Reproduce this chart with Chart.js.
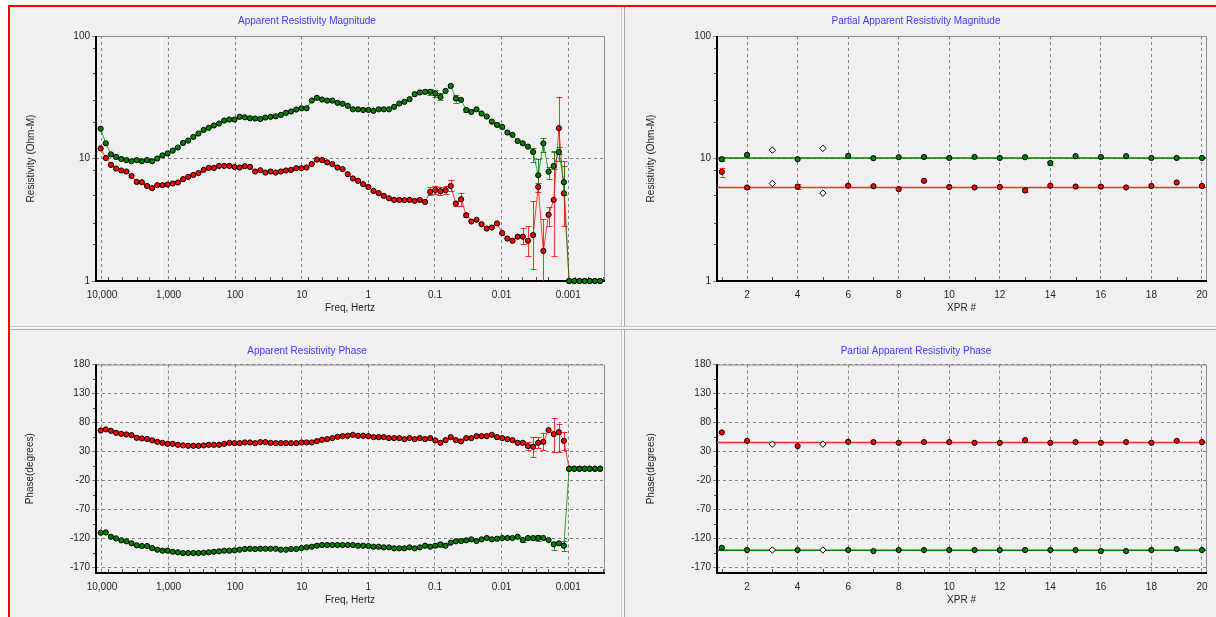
<!DOCTYPE html>
<html>
<head>
<meta charset="utf-8">
<title>Apparent Resistivity</title>
<script src="https://cdn.jsdelivr.net/npm/chart.js@4.4.1/dist/chart.umd.min.js"></script>
<style>
  html, body { margin: 0; padding: 0; background: #ffffff; }
  body { position: relative; width: 1216px; height: 617px; overflow: hidden; }
  #frame { position: absolute; left: 8px; top: 5px; width: 1208px; height: 612px; box-sizing: border-box;
           background: #f0f0f0; border-left: 2px solid #ff0000; border-top: 2px solid #ff0000; }
  .panel { position: absolute; }
  .panel canvas { display: block; }
  #vsplit { position: absolute; left: 621px; top: 7px; width: 4px; height: 610px; box-sizing: border-box;
            border-left: 1px solid #c4c4c4; border-right: 1px solid #a8a8a8; background: #f7f7f7; }
  #hsplit { position: absolute; left: 10px; top: 326px; width: 1206px; height: 4px; box-sizing: border-box;
            border-top: 1px solid #c4c4c4; border-bottom: 1px solid #a8a8a8; background: #f7f7f7; }
</style>
</head>
<body>
<div id="frame"></div>
<div id="vsplit"></div>
<div id="hsplit"></div>
<div class="panel" style="left:10px;top:7px;"><canvas id="magChart" width="611" height="319"></canvas></div>
<div class="panel" style="left:626px;top:7px;"><canvas id="partialMagChart" width="590" height="319"></canvas></div>
<div class="panel" style="left:10px;top:330px;"><canvas id="phaseChart" width="611" height="287"></canvas></div>
<div class="panel" style="left:626px;top:330px;"><canvas id="partialPhaseChart" width="590" height="287"></canvas></div>
<script>
Chart.defaults.font.family = "'Liberation Sans', Arial, sans-serif";
Chart.defaults.font.size = 10;
Chart.defaults.color = '#1e1e1e';

// sounding frequencies (Hz), high to low
const freqHz = [10470, 8766, 7336, 6139, 5137, 4299, 3598, 3011, 2520, 2109,
  1766, 1478, 1237, 1035, 866.6, 725.3, 607.0, 508.0, 425.2, 355.8,
  297.9, 249.3, 208.6, 174.6, 146.2, 122.3, 102.4, 85.7, 71.7, 60.0,
  50.2, 42.0, 35.2, 29.4, 24.6, 20.6, 17.3, 14.5, 12.1, 10.1,
  8.47, 7.09, 5.93, 4.97, 4.16, 3.48, 2.91, 2.44, 2.04, 1.71,
  1.43, 1.20, 1.00, 0.838, 0.701, 0.587, 0.491, 0.411, 0.344, 0.288,
  0.241, 0.202, 0.169, 0.141, 0.118, 0.0990, 0.0828, 0.0693, 0.0580, 0.0486,
  0.0406, 0.0340, 0.0285, 0.0238, 0.0200, 0.0167, 0.0140, 0.0117, 0.00979, 0.00819,
  0.00686, 0.00574, 0.00480, 0.00402, 0.00336, 0.00282, 0.00236, 0.00197, 0.00165, 0.00138,
  0.00116, 0.000968, 0.000810, 0.000678, 0.000567, 0.000475, 0.000397, 0.000332];

// apparent resistivity (Ohm-m)
const magGreen = [17.5, 13.3, 10.8, 10.3, 9.9, 9.7, 9.5, 9.7, 9.5, 9.7,
  9.5, 10.0, 10.6, 11.0, 11.6, 12.3, 13.4, 14.0, 15.0, 16.0,
  17.1, 17.8, 18.6, 19.3, 20.4, 20.8, 20.8, 21.9, 21.7, 21.3,
  21.2, 21.0, 21.6, 21.9, 22.1, 22.7, 23.6, 24.2, 25.1, 25.7,
  25.7, 29.7, 31.3, 30.3, 29.7, 29.7, 28.5, 28.0, 26.9, 25.2,
  25.2, 24.9, 24.9, 24.5, 25.2, 25.2, 25.2, 26.4, 28.1, 29.0,
  30.5, 33.5, 34.6, 35.0, 35.0, 33.9, 31.8, 35.6, 39.1, 30.9,
  30.1, 24.9, 24.0, 25.2, 23.3, 22.0, 20.0, 18.8, 18.1, 16.3,
  15.6, 13.9, 13.3, 12.5, 11.3, 7.3, 13.3, 7.8, 8.7, 11.3,
  6.4, 1, 1, 1, 1, 1, 1, 1];
const magRed = [12.1, 10.1, 8.87, 8.28, 7.98, 7.83, 7.2, 6.44, 6.4, 5.97,
  5.73, 6.06, 6.06, 6.13, 6.25, 6.37, 6.78, 7.08, 7.35, 7.6,
  8.07, 8.38, 8.38, 8.7, 8.7, 8.7, 8.54, 8.44, 8.65, 8.54,
  7.83, 8.02, 7.68, 7.83, 7.68, 7.83, 7.98, 8.07, 8.33, 8.33,
  8.44, 9.02, 9.8, 9.7, 9.3, 9.0, 8.44, 8.2, 7.44, 6.87,
  6.57, 6.17, 5.86, 5.44, 5.21, 4.95, 4.74, 4.59, 4.59, 4.57,
  4.59, 4.51, 4.59, 4.42, 5.34, 5.54, 5.41, 5.51, 5.97, 4.29,
  4.65, 3.44, 3.06, 3.16, 2.91, 2.68, 2.73, 2.95, 2.46, 2.22,
  2.13, 2.3, 2.3, 2.13, 2.37, 5.86, 1.76, 3.48, 4.59, 17.7,
  5.2, 1, 1, 1, 1, 1, 1, 1];

// phase (degrees)
const phaseRed = [66.1, 67.9, 65.5, 62.0, 60.3, 59.2, 58.0, 53.4, 52.3, 51.5,
  48.9, 46.5, 44.8, 43.0, 43.0, 41.3, 40.3, 39.6, 39.6, 39.6,
  40.3, 41.3, 41.3, 41.3, 43.0, 44.8, 44.2, 44.2, 45.4, 45.4,
  44.2, 46.0, 46.0, 44.8, 44.2, 44.2, 44.2, 44.2, 44.2, 45.4,
  45.4, 45.4, 47.7, 50.0, 51.1, 52.9, 55.2, 56.3, 56.9, 58.6,
  56.9, 56.9, 56.3, 54.6, 54.6, 54.6, 52.9, 52.9, 52.9, 51.1,
  52.9, 51.1, 52.9, 51.1, 52.9, 48.9, 44.8, 49.4, 54.6, 49.4,
  47.2, 52.9, 52.9, 56.3, 56.3, 56.3, 58.6, 54.6, 52.9, 51.1,
  49.4, 44.8, 44.8, 39.1, 37.9, 44.8, 46.5, 66.7, 59.8, 63.2,
  48.2, 0, 0, 0, 0, 0, 0, 0];
const phaseGreen = [-110.5, -109.9, -117.4, -120.2, -123.6, -125.3, -128.8, -132.2, -133.4, -133.4,
  -136.9, -139.8, -141.5, -141.5, -143.3, -144.3, -145.5, -145.5, -145.5, -145.5,
  -145.0, -144.3, -143.3, -142.6, -141.5, -141.5, -140.9, -139.8, -138.6, -138.1,
  -138.6, -138.1, -138.1, -138.1, -138.1, -139.8, -139.8, -138.6, -138.6, -136.9,
  -135.7, -134.6, -132.9, -131.7, -131.7, -131.7, -131.7, -131.7, -131.7, -131.7,
  -132.9, -132.9, -133.4, -134.6, -134.6, -135.7, -135.7, -137.4, -137.4, -137.4,
  -135.7, -137.4, -135.7, -132.9, -134.6, -132.9, -130.5, -132.9, -127.7, -125.3,
  -124.8, -123.6, -121.9, -124.8, -121.9, -119.6, -121.9, -120.8, -119.6, -119.6,
  -119.6, -117.4, -123.1, -119.6, -119.6, -119.6, -119.6, -123.1, -130.5, -128.8,
  -132.9, 0, 0, 0, 0, 0, 0, 0];

// error bars: [point index, low, high]
const magGreenErr = [[64, 33, 37], [65, 32, 36], [66, 30, 34], [69, 28.6, 33], [71, 23.8, 26],
  [84, 9.4, 12.2], [85, 6.3, 10], [86, 11.2, 14.6], [87, 6.8, 8.5], [88, 8.2, 11.2], [89, 10.8, 12.5], [90, 5.0, 8.7]];
const magRedErr = [[64, 5.0, 5.8], [65, 5.1, 6.0], [66, 5.0, 5.9], [67, 5.1, 6.0], [68, 5.4, 6.7], [69, 4.1, 4.5],
  [70, 4.1, 5.2], [71, 3.3, 3.6], [82, 2.0, 2.7], [83, 1.6, 2.8], [84, 1.25, 4.5], [85, 5.3, 7.4],
  [86, 0.9, 3.2], [87, 2.8, 4.0], [88, 1.6, 11.5], [89, 9.5, 32], [90, 2.8, 9.5]];
const phaseRedErr = [[82, 42, 47], [83, 33, 46], [84, 20, 55], [85, 35, 54], [86, 32, 62], [88, 29, 88], [89, 29, 78], [90, 32, 64]];
const phaseGreenErr = [[66, -127, -135], [82, -120, -126], [84, -116, -123], [85, -115, -124], [88, -126, -140], [90, -125, -142]];

const freqTicks = [10000, 1000, 100, 10, 1, 0.1, 0.01, 0.001];
const freqTickLabels = ['10,000', '1,000', '100', '10', '1', '0.1', '0.01', '0.001'];
const magTicks = [1, 10, 100];
const phaseTicks = [180, 130, 80, 30, -20, -70, -120, -170];

// partial (per XPR) results
const xprNumbers = [1, 2, 3, 4, 5, 6, 7, 8, 9, 10, 11, 12, 13, 14, 15, 16, 17, 18, 19, 20];
const xprTicks = [2, 4, 6, 8, 10, 12, 14, 16, 18, 20];
const excludedXpr = [3, 5];
const partialMagGreen = [9.87, 10.7, 11.7, 9.87, 12.1, 10.5, 10.06, 10.25, 10.3, 10.1, 10.3, 10.1, 10.25, 9.2, 10.45, 10.3, 10.45, 10.1, 10.1, 10.1];
const partialMagRed = [7.78, 5.8, 6.25, 5.9, 5.21, 6.0, 5.94, 5.62, 6.57, 5.86, 5.8, 5.86, 5.48, 6.0, 5.9, 5.9, 5.8, 5.97, 6.37, 5.97];
const partialPhaseRed = [62.7, 48.2, 42.5, 39.1, 42.5, 46.5, 46.0, 44.8, 46.0, 46.0, 44.8, 44.8, 49.4, 44.8, 46.0, 44.8, 46.0, 44.8, 48.2, 46.0];
const partialPhaseGreen = [-136.4, -140.3, -140.3, -140.3, -140.3, -140.3, -142.1, -140.3, -140.3, -140.3, -140.3, -140.3, -140.3, -140.3, -140.3, -142.1, -142.1, -140.3, -138.6, -140.3];
const partialMagGreenErr = [[0, 9.6, 10.2], [13, 8.9, 9.6]];
const partialMagRedErr = [[0, 7.1, 8.4], [1, 5.6, 6.0], [3, 5.6, 6.2], [12, 5.3, 5.7]];
const meanMagGreen = 10.1, meanMagRed = 5.8;
const meanPhaseRed = 45.4, meanPhaseGreen = -140.9;

const GREEN = '#008000', RED = '#ff0000', GRID = '#808080', TITLE_BLUE = '#3a3aff';
const FREQ_MIN = 0.00029, FREQ_MAX = 12300, XPR_MIN = 0.81, XPR_MAX = 20.16;

// minor tick positions
const freqMinor = [];
[0.0001, 0.001, 0.01, 0.1, 1, 10, 100, 1000, 10000].forEach(d => [2, 3, 5, 8].forEach(m => freqMinor.push(d * m)));
const magMinor = [2, 3, 5, 8, 20, 30, 50, 80];
const phaseMinor = phaseTicks.map(v => v - 25).filter(v => v > -180);
const xprMinor = xprNumbers.filter(n => n % 2 === 1);

// frame, minor ticks and error bars, drawn under the data
const plotFrame = {
  id: 'plotFrame',
  beforeDatasetsDraw(chart, args, opts) {
    const {ctx, chartArea: a, scales: {x, y}} = chart;
    ctx.save();
    if (opts.whiteLineAt) {
      const px = Math.round(x.getPixelForValue(opts.whiteLineAt)) + 0.5;
      ctx.strokeStyle = '#ffffff';
      ctx.lineWidth = 1.5;
      ctx.beginPath(); ctx.moveTo(px, a.top); ctx.lineTo(px, a.bottom); ctx.stroke();
    }
    ctx.strokeStyle = '#505050';
    ctx.lineWidth = 1;
    (opts.xMinor || []).forEach(v => {
      const px = Math.round(x.getPixelForValue(v)) + 0.5;
      if (px < a.left || px > a.right) return;
      ctx.beginPath(); ctx.moveTo(px, a.bottom); ctx.lineTo(px, a.bottom - 4); ctx.stroke();
    });
    (opts.yMinor || []).forEach(v => {
      const py = Math.round(y.getPixelForValue(v)) + 0.5;
      ctx.beginPath(); ctx.moveTo(a.left - 3, py); ctx.lineTo(a.left, py); ctx.stroke();
    });
    ctx.strokeStyle = '#8c8c8c';
    ctx.beginPath();
    ctx.moveTo(a.left, a.top + 0.5); ctx.lineTo(a.right + 0.5, a.top + 0.5); ctx.lineTo(a.right + 0.5, a.bottom);
    ctx.stroke();
    ctx.strokeStyle = '#000000';
    ctx.lineWidth = 2;
    ctx.beginPath();
    ctx.moveTo(a.left, a.top); ctx.lineTo(a.left, a.bottom); ctx.lineTo(a.right + 1, a.bottom);
    ctx.stroke();

    ctx.lineWidth = 1;
    (opts.errors || []).forEach(set => {
      ctx.strokeStyle = set.color;
      set.bars.forEach(([i, lo, hi]) => {
        const px = Math.round(x.getPixelForValue(set.xs[i])) + 0.5;
        let yLo = y.getPixelForValue(lo), yHi = y.getPixelForValue(hi);
        const capLo = yLo <= a.bottom, capHi = yHi >= a.top;
        yLo = Math.min(yLo, a.bottom); yHi = Math.max(yHi, a.top);
        ctx.beginPath();
        ctx.moveTo(px, yLo); ctx.lineTo(px, yHi);
        if (capLo) { ctx.moveTo(px - 3, Math.round(yLo) + 0.5); ctx.lineTo(px + 3, Math.round(yLo) + 0.5); }
        if (capHi) { ctx.moveTo(px - 3, Math.round(yHi) + 0.5); ctx.lineTo(px + 3, Math.round(yHi) + 0.5); }
        ctx.stroke();
      });
    });
    ctx.restore();
  }
};

function titleOpts(text, top, bottom) {
  return { display: true, text: text, color: TITLE_BLUE, font: { size: 10, weight: 'normal' }, padding: { top: top, bottom: bottom } };
}

function freqAxis(height, titlePad) {
  return {
    type: 'logarithmic', reverse: true, min: FREQ_MIN, max: FREQ_MAX,
    afterBuildTicks: s => { s.ticks = freqTicks.map(v => ({ value: v })); },
    afterFit: s => { s.height = height; },
    ticks: { autoSkip: false, maxRotation: 0, padding: 8, callback: (v, i) => freqTickLabels[i] },
    grid: { color: GRID, drawTicks: false },
    border: { display: false, dash: [3, 3] },
    title: { display: true, text: 'Freq, Hertz', padding: { top: 0, bottom: titlePad } }
  };
}

function xprAxis(height, titlePad) {
  return {
    type: 'linear', min: XPR_MIN, max: XPR_MAX,
    afterBuildTicks: s => { s.ticks = xprTicks.map(v => ({ value: v })); },
    afterFit: s => { s.height = height; },
    ticks: { autoSkip: false, maxRotation: 0, padding: 8, callback: v => String(v) },
    grid: { color: GRID, drawTicks: false },
    border: { display: false, dash: [3, 3] },
    title: { display: true, text: 'XPR #', padding: { top: 0, bottom: titlePad } }
  };
}

function magAxis(width, titlePad) {
  return {
    type: 'logarithmic', min: 1, max: 100,
    afterBuildTicks: s => { s.ticks = magTicks.map(v => ({ value: v })); },
    afterFit: s => { s.width = width; },
    ticks: { padding: 2, callback: v => String(v) },
    grid: { color: GRID, tickLength: 4, tickColor: GRID },
    border: { display: false, dash: [3, 3] },
    title: { display: true, text: 'Resistivity (Ohm-M)', padding: { top: titlePad, bottom: 0 } }
  };
}

function phaseAxis(width, titlePad) {
  return {
    type: 'linear', min: -180, max: 180,
    afterBuildTicks: s => { s.ticks = phaseTicks.map(v => ({ value: v })); },
    afterFit: s => { s.width = width; },
    ticks: { padding: 2, callback: v => String(v) },
    grid: { color: GRID, tickLength: 4, tickColor: GRID },
    border: { display: false, dash: [3, 3] },
    title: { display: true, text: 'Phase(degrees)', padding: { top: titlePad, bottom: 0 } }
  };
}

function freqSeries(label, values, fill, line) {
  return {
    label: label,
    data: freqHz.map((f, i) => ({ x: f, y: values[i] })),
    borderColor: line, borderWidth: 1, tension: 0,
    pointRadius: 2.6, pointStyle: 'circle', pointBackgroundColor: fill,
    pointBorderColor: '#000', pointBorderWidth: 1, clip: 5
  };
}

function partialSeries(greenVals, redVals, meanGreen, meanRed) {
  const isOut = i => excludedXpr.includes(xprNumbers[i]);
  const pick = (vals, keepOut) => xprNumbers.map((n, i) => ({ x: n, y: vals[i], out: isOut(i) }))
    .filter(p => p.out === keepOut).map(p => ({ x: p.x, y: p.y }));
  const pts = { showLine: false, pointRadius: 2.6, pointStyle: 'circle', pointBorderColor: '#000', pointBorderWidth: 1, clip: 5 };
  return [
    Object.assign({}, pts, { label: 'excluded', data: pick(greenVals, true).concat(pick(redVals, true)),
      pointStyle: 'rectRot', pointRadius: 3.2, pointBackgroundColor: '#ffffff', order: 0 }),
    Object.assign({}, pts, { label: 'green', data: pick(greenVals, false), pointBackgroundColor: GREEN, order: 1 }),
    Object.assign({}, pts, { label: 'red', data: pick(redVals, false), pointBackgroundColor: RED, order: 2 }),
    { label: 'green mean', data: [{ x: XPR_MIN, y: meanGreen }, { x: XPR_MAX, y: meanGreen }],
      borderColor: GREEN, borderWidth: 1.5, pointRadius: 0, order: 3 },
    { label: 'red mean', data: [{ x: XPR_MIN, y: meanRed }, { x: XPR_MAX, y: meanRed }],
      borderColor: '#ff2a2a', borderWidth: 1.5, pointRadius: 0, order: 4 }
  ];
}

function baseOptions(title, right, scales, frame) {
  return {
    responsive: false, animation: false, devicePixelRatio: 1, events: [],
    layout: { padding: { left: 0, right: right, top: 0, bottom: 0 } },
    plugins: { legend: { display: false }, tooltip: { enabled: false }, title: title, plotFrame: frame },
    scales: scales
  };
}

new Chart(document.getElementById('magChart'), {
  type: 'line',
  data: { datasets: [
    freqSeries('Rho green', magGreen, GREEN, 'rgba(0,128,0,0.75)'),
    freqSeries('Rho red', magRed, RED, 'rgba(255,0,0,0.75)')
  ] },
  options: baseOptions(titleOpts('Apparent Resistivity Magnitude', 8, 9), 17,
    { x: freqAxis(45, 12), y: magAxis(86, 15) },
    { whiteLineAt: 1300, xMinor: freqMinor, yMinor: magMinor, errors: [
      { xs: freqHz, bars: magRedErr, color: 'rgba(255,0,0,0.8)' },
      { xs: freqHz, bars: magGreenErr, color: 'rgba(0,128,0,0.85)' }] }),
  plugins: [plotFrame]
});

new Chart(document.getElementById('phaseChart'), {
  type: 'line',
  data: { datasets: [
    freqSeries('Phase green', phaseGreen, GREEN, 'rgba(0,128,0,0.75)'),
    freqSeries('Phase red', phaseRed, RED, 'rgba(255,0,0,0.75)')
  ] },
  options: baseOptions(titleOpts('Apparent Resistivity Phase', 15, 7.5), 17,
    { x: freqAxis(44, 11), y: phaseAxis(86, 14) },
    { whiteLineAt: 1300, xMinor: freqMinor, yMinor: phaseMinor, errors: [
      { xs: freqHz, bars: phaseRedErr, color: 'rgba(255,0,0,0.8)' },
      { xs: freqHz, bars: phaseGreenErr, color: 'rgba(0,128,0,0.85)' }] }),
  plugins: [plotFrame]
});

new Chart(document.getElementById('partialMagChart'), {
  type: 'line',
  data: { datasets: partialSeries(partialMagGreen, partialMagRed, meanMagGreen, meanMagRed) },
  options: baseOptions(titleOpts('Partial Apparent Resistivity Magnitude', 8, 9), 10,
    { x: xprAxis(45, 12), y: magAxis(91, 19) },
    { xMinor: xprMinor, yMinor: magMinor, errors: [
      { xs: xprNumbers, bars: partialMagRedErr, color: 'rgba(255,0,0,0.8)' },
      { xs: xprNumbers, bars: partialMagGreenErr, color: 'rgba(0,128,0,0.85)' }] }),
  plugins: [plotFrame]
});

new Chart(document.getElementById('partialPhaseChart'), {
  type: 'line',
  data: { datasets: partialSeries(partialPhaseGreen, partialPhaseRed, meanPhaseGreen, meanPhaseRed) },
  options: baseOptions(titleOpts('Partial Apparent Resistivity Phase', 15, 7.5), 10,
    { x: xprAxis(44, 11), y: phaseAxis(91, 19) },
    { xMinor: xprMinor, yMinor: phaseMinor, errors: [] }),
  plugins: [plotFrame]
});
</script>
</body>
</html>
